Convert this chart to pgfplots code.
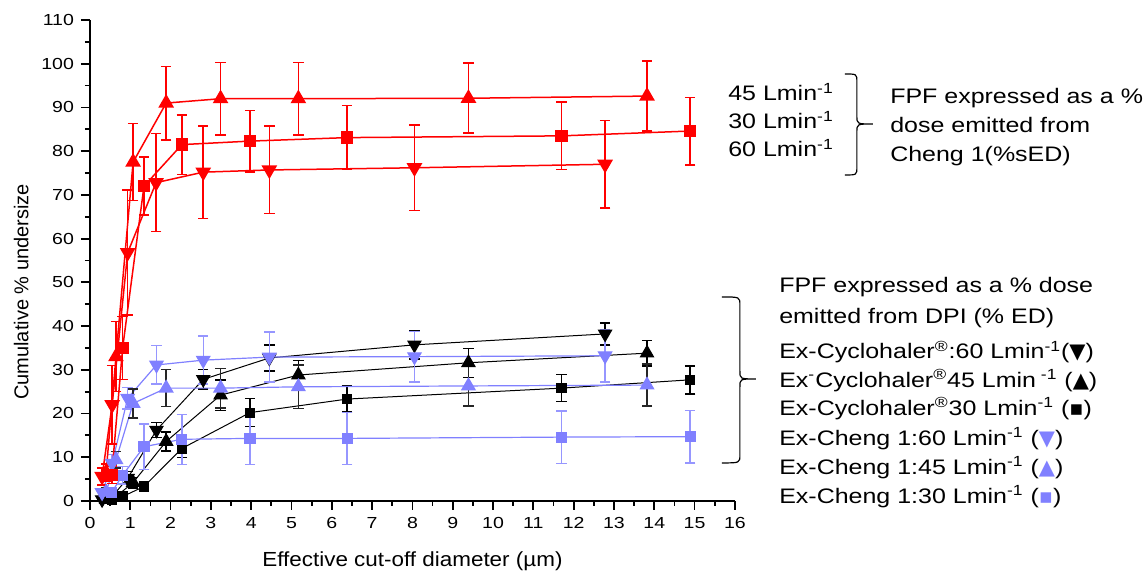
\documentclass[border=0pt]{standalone}
\usepackage{fontspec}
\setmainfont{Liberation Sans}
\newfontfamily\tickfont[FakeStretch=1.22]{Liberation Sans}
\newfontfamily\labfont[FakeStretch=1.1]{Liberation Sans}
\newfontfamily\notefont[FakeStretch=1.19]{Liberation Sans}
\newfontfamily\symfont{DejaVu Sans}
\usepackage{pgfplots}
\pgfplotsset{compat=1.18}
\definecolor{lblue}{RGB}{128,128,255}
\definecolor{lbluebar}{RGB}{150,150,255}
\newcommand{\note}{\notefont\fontsize{10.5}{12}\selectfont}
\newcommand{\lmin}{Lmin\textsuperscript{-1}}

\pgfplotsset{
  bars/.style 2 args={error bars/.cd, y dir=both, y explicit,
    error bar style={#1, line width=#2},
    error mark options={rotate=90, #1, mark size=2.6pt, line width=#2}},
  down/.style={mark=triangle*, mark options={rotate=180, solid, fill=#1}},
  up/.style={mark=triangle*, mark options={solid, fill=#1}},
  sq/.style={mark=square*, mark options={solid, fill=#1}},
}

\begin{document}
\begin{tikzpicture}
\begin{scope}[x=0.5pt,y=-0.5pt,shift={(-90,-501)}]
\path[use as bounding box] (0,0) rectangle (1143,571);
\end{scope}

\begin{axis}[
  scale only axis, width=322.5pt, height=240.5pt,
  xmin=0, xmax=16, ymin=0, ymax=110,
  axis x line*=bottom, axis y line*=left,
  axis line style={black, line width=0.9pt, -},
  xtick={0,1,...,16}, ytick={0,10,...,110},
  minor x tick num=1, minor y tick num=1,
  tick align=outside,
  major tick length=4.5pt, minor tick length=2.5pt,
  every tick/.style={black, line width=0.9pt},
  ticklabel style={font=\tickfont\fontsize{8}{9.6}\selectfont},
  /pgf/number format/assume math mode=true,
  xlabel={Effective cut-off diameter (µm)},
  ylabel={Cumulative \% undersize},
  xlabel style={font=\labfont\fontsize{10.2}{12}\selectfont, at={(axis description cs:0.5,-0.137)}, anchor=base},
  ylabel style={font=\fontsize{10}{12}\selectfont, at={(axis description cs:-0.0957,0.4345)}, anchor=base},
  clip=false,
]
% Ex-Cyclohaler 60 (black, down)
\addplot[black, line width=0.5pt, down=black, mark size=3.8pt, bars={black}{0.7pt}] coordinates {
(0.30,0.3) +- (0,0.3) (0.55,1.0) +- (0,0.5) (0.935,5.2) +- (0,1.5) (1.65,16.2) +- (0,1.7)
(2.81,27.8) +- (0,2.2) (4.45,32.7) +- (0,3.0) (8.05,35.7) +- (0,3.2) (12.78,38.2) +- (0,2.5)};
% Ex-Cyclohaler 45 (black, up)
\addplot[black, line width=0.5pt, up=black, mark size=3.8pt, bars={black}{0.7pt}] coordinates {
(0.40,0.3) +- (0,0.3) (0.645,1.0) +- (0,0.5) (1.07,4.2) +- (0,1.2) (1.89,13.6) +- (0,2.2)
(3.24,24.2) +- (0,3.5) (5.17,28.8) +- (0,3.3) (9.39,31.6) +- (0,3.3) (13.82,33.8) +- (0,2.9)};
% Ex-Cyclohaler 30 (black, square)
\addplot[black, line width=0.5pt, sq=black, mark size=2.3pt, bars={black}{0.7pt}] coordinates {
(0.54,0.3) +- (0,0.3) (0.81,1.0) +- (0,0.5) (1.34,3.3) +- (0,0.8) (2.28,12.0) +- (0,2.0)
(3.97,20.2) +- (0,3.2) (6.38,23.3) +- (0,3.0) (11.7,25.8) +- (0,3.1) (14.89,27.7) +- (0,3.2)};
% Ex-Cheng 1 60 (blue, down)
\addplot[lblue, line width=0.6pt, down=lblue, mark size=3.8pt, bars={lbluebar}{0.7pt}] coordinates {
(0.30,1.9) +- (0,1.0) (0.55,8.6) +- (0,2.0) (0.935,23.5) +- (0,2.5) (1.65,31.1) +- (0,4.4)
(2.81,32.2) +- (0,5.5) (4.45,32.9) +- (0,5.7) (8.05,33.0) +- (0,5.8) (12.78,33.2) +- (0,6.0)};
% Ex-Cheng 1 45 (blue, up, dark bars)
\addplot[lblue, line width=0.6pt, up=lblue, mark size=3.8pt, bars={black!85}{0.7pt}] coordinates {
(0.40,2.0) +- (0,1.0) (0.645,9.4) +- (0,1.9) (1.07,22.3) +- (0,3.3) (1.89,25.8) +- (0,4.2)
(3.24,25.8) +- (0,4.5) (5.17,26.1) +- (0,5.0) (9.39,26.3) +- (0,4.6) (13.82,26.5) +- (0,4.8)};
% Ex-Cheng 1 30 (blue, square)
\addplot[lblue, line width=0.6pt, sq=lblue, mark size=2.5pt, bars={lbluebar}{0.7pt}] coordinates {
(0.54,2.0) +- (0,1.0) (0.81,5.9) +- (0,2.0) (1.34,12.4) +- (0,5.2) (2.28,14.1) +- (0,5.7)
(3.97,14.3) +- (0,5.9) (6.38,14.3) +- (0,5.9) (11.7,14.6) +- (0,6.0) (14.89,14.7) +- (0,6.0)};
% Cheng 1 45 (red, up)
\addplot[red, line width=0.75pt, up=red, mark size=3.8pt, bars={red}{0.8pt}] coordinates {
(0.40,6.5) +- (0,2.0) (0.645,33.0) +- (0,8.0) (1.07,77.5) +- (0,8.8) (1.89,91.0) +- (0,8.4)
(3.24,92.0) +- (0,8.3) (5.17,92.0) +- (0,8.3) (9.39,92.1) +- (0,8.0) (13.82,92.6) +- (0,8.0)};
% Cheng 1 30 (red, square)
\addplot[red, line width=0.75pt, sq=red, mark size=2.7pt, bars={red}{0.8pt}] coordinates {
(0.54,6.0) +- (0,2.0) (0.81,35.0) +- (0,7.2) (1.34,72.0) +- (0,6.6) (2.28,81.5) +- (0,6.8)
(3.97,82.3) +- (0,7.0) (6.38,83.1) +- (0,7.3) (11.7,83.5) +- (0,7.7) (14.89,84.6) +- (0,7.7)};
% Cheng 1 60 (red, down)
\addplot[red, line width=0.75pt, down=red, mark size=3.8pt, bars={red}{0.8pt}] coordinates {
(0.30,5.6) +- (0,2.0) (0.55,22.0) +- (0,9.0) (0.935,56.8) +- (0,14.3) (1.64,72.8) +- (0,11.2)
(2.81,75.2) +- (0,10.6) (4.45,75.7) +- (0,10.0) (8.05,76.2) +- (0,9.8) (12.78,77.0) +- (0,10.0)};
\end{axis}

\begin{scope}[x=0.5pt,y=-0.5pt,shift={(-90,-501)}]
\node[anchor=base west, inner sep=0] at (728,101) {\note 45 \lmin};
\node[anchor=base west, inner sep=0] at (728,129) {\note 30 \lmin};
\node[anchor=base west, inner sep=0] at (728,157) {\note 60 \lmin};
\draw[line width=0.6pt] (845,74) .. controls (857,74) .. (857,82) -- (857,116)
  .. controls (857,124) .. (873,124) .. controls (857,124) .. (857,132) -- (857,167)
  .. controls (857,175) .. (845,175);
\node[anchor=base west, inner sep=0] at (890,103.5) {\note FPF expressed as a \%};
\node[anchor=base west, inner sep=0] at (890,132.5) {\note dose emitted from};
\node[anchor=base west, inner sep=0] at (890,161.5) {\note Cheng 1(\%sED)};

\draw[line width=0.6pt] (722,297) .. controls (740,297) .. (740,305) -- (740,371)
  .. controls (740,379) .. (756,379) .. controls (740,379) .. (740,387) -- (740,455)
  .. controls (740,463) .. (722,463);
\node[anchor=base west, inner sep=0] at (779,292.5) {\note FPF expressed as a \% dose};
\node[anchor=base west, inner sep=0] at (779,324) {\note emitted from DPI (\% ED)};
\node[anchor=base west, inner sep=0] at (779,359) {\note Ex-Cyclohaler\textsuperscript{®}:60 \lmin({\symfont ▼})};
\node[anchor=base west, inner sep=0] at (779,387.5) {\note Ex\textsuperscript{-}Cyclohaler\textsuperscript{®}45 Lmin\textsuperscript{ -1} ({\symfont ▲})};
\node[anchor=base west, inner sep=0] at (779,416) {\note Ex-Cyclohaler\textsuperscript{®}30 \lmin\ ({\symfont ▪})};
\node[anchor=base west, inner sep=0] at (779,446) {\note Ex-Cheng 1:60 \lmin\ ({\symfont\color{lblue}▼})};
\node[anchor=base west, inner sep=0] at (779,475) {\note Ex-Cheng 1:45 \lmin\ ({\symfont\color{lblue}▲})};
\node[anchor=base west, inner sep=0] at (779,504) {\note Ex-Cheng 1:30 \lmin\ ({\symfont\color{lblue}▪})};
\end{scope}
\end{tikzpicture}
\end{document}
